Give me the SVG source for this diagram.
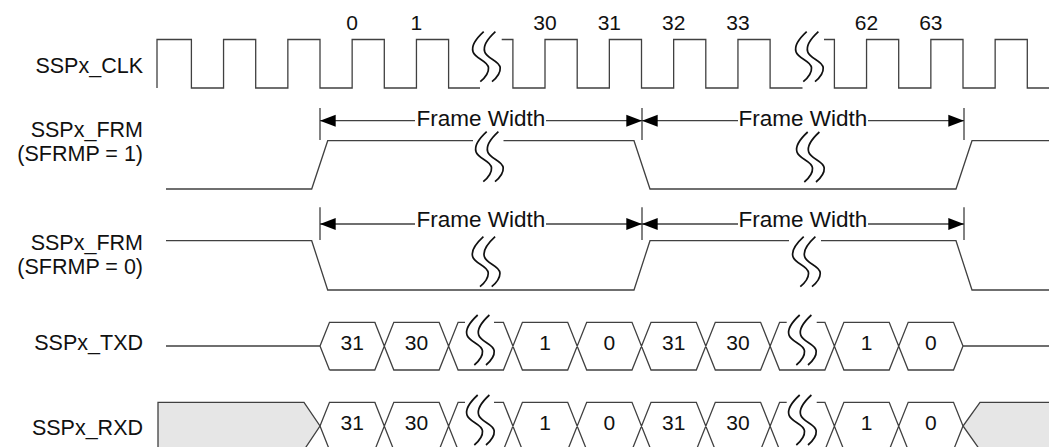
<svg xmlns="http://www.w3.org/2000/svg" xmlns:xlink="http://www.w3.org/1999/xlink" width="1049" height="447" viewBox="0 0 1049 447">
<style>
.sig{fill:none;stroke:#404040;stroke-width:1.3}
.sq{fill:none;stroke:#111;stroke-width:1.7}
.lbl{font-family:"Liberation Sans",Arial,sans-serif;font-size:21.5px;fill:#111;text-anchor:end}
.num{font-family:"Liberation Sans",Arial,sans-serif;font-size:21px;fill:#111;text-anchor:middle}
.fw{font-family:"Liberation Sans",Arial,sans-serif;font-size:22.5px;fill:#111;text-anchor:middle}
.ah{fill:#000}
.gray{fill:#e6e6e6;stroke:#404040;stroke-width:1.3}
</style>
<defs>
<path id="s" d="M11.7,0 C3,8 -1,14 1,20 C3,27 16,29 16.5,36 C17,42 13,46 8.3,50"/>
<g id="brk" class="sq"><use xlink:href="#s"/><use xlink:href="#s" x="11.7"/></g>
<path id="al" d="M0,0 L15.7,-6 L15.7,6 Z"/>
<path id="ar" d="M0,0 L-15.7,-6 L-15.7,6 Z"/>
</defs>

<g id="labels">
<text class="lbl" x="143" y="72.7">SSPx_CLK</text>
<text class="lbl" x="143" y="136.5">SSPx_FRM</text>
<text class="lbl" x="143" y="160.5">(SFRMP = 1)</text>
<text class="lbl" x="143" y="250">SSPx_FRM</text>
<text class="lbl" x="143" y="274">(SFRMP = 0)</text>
<text class="lbl" x="143" y="350">SSPx_TXD</text>
<text class="lbl" x="143" y="435">SSPx_RXD</text>
</g>

<g id="clk">
<path class="sig" d="M157,88 V39.5 H191.4 V88 H223.55 V39.5 H255.7 V88 H287.85 V39.5 H320 V88 H352.15 V39.5 H384.3 V88 H416.45 V39.5 H448.6 V88 H480 M501.7,39.5 H512.9 V88 H545 V39.5 H577.2 V88 H609.35 V39.5 H641.5 V88 H673.65 V39.5 H705.8 V88 H737.95 V39.5 H770.1 V88 H802.5 M824,39.5 H834.4 V88 H866.55 V39.5 H898.7 V88 H930.85 V39.5 H963 V88 H995.15 V39.5 H1027.3 V88 H1049"/>
<use xlink:href="#brk" x="472" y="31.7"/>
<use xlink:href="#brk" x="795" y="31.7"/>
<text class="num" x="352.15" y="30">0</text>
<text class="num" x="416.45" y="30">1</text>
<text class="num" x="545" y="30">30</text>
<text class="num" x="609.35" y="30">31</text>
<text class="num" x="673.65" y="30">32</text>
<text class="num" x="737.95" y="30">33</text>
<text class="num" x="866.55" y="30">62</text>
<text class="num" x="930.85" y="30">63</text>
</g>

<g id="frm1">
<path class="sig" d="M166,189 H311.7 L327.7,140.7 H473 M503.5,140.7 H634 L650,189 H956 L972,140.7 H1049"/>
<use xlink:href="#brk" x="475" y="131.7"/>
<use xlink:href="#brk" x="796" y="132"/>
</g>

<g id="frm0">
<path class="sig" d="M166,240.7 H311.7 L327.7,290 H634 L650,240.7 H789 M821,240.7 H956 L972,290 H1049"/>
<use xlink:href="#brk" x="471.7" y="236.7"/>
<use xlink:href="#brk" x="792" y="236.7"/>
</g>

<g id="connectors">
<g class="sig">
<path d="M320,108 V140 M642,108 V140 M964,108 V140 M320,207.3 V240 M642,207.3 V240 M964,207.3 V240"/>
<path d="M320,120.7 H415 M546,120.7 H642 M642,120.7 H738 M868,120.7 H964"/>
<path d="M320,224 H415 M546,224 H642 M642,224 H738 M868,224 H964"/>
</g>
<g class="ah">
<use xlink:href="#al" x="320" y="120.7"/><use xlink:href="#ar" x="642" y="120.7"/>
<use xlink:href="#al" x="642" y="120.7"/><use xlink:href="#ar" x="964" y="120.7"/>
<use xlink:href="#al" x="320" y="224"/><use xlink:href="#ar" x="642" y="224"/>
<use xlink:href="#al" x="642" y="224"/><use xlink:href="#ar" x="964" y="224"/>
</g>
<text class="fw" x="481" y="126">Frame Width</text>
<text class="fw" x="803" y="126">Frame Width</text>
<text class="fw" x="481" y="226.7">Frame Width</text>
<text class="fw" x="803" y="226.7">Frame Width</text>
</g>

<g id="txd">
<path class="sig" d="M166,346 H320 L329.5,322.3 H374.8 L393.8,370 M329.5,370 L320,346 M329.5,370 H374.8 L393.8,322.3 H439.1 L458.1,370 H503.4 L522.4,322.3 H567.7 L586.7,370 H632 L651,322.3 H696.3 L715.3,370 H760.6 L779.6,322.3 H786.7 M816.7,322.3 H824.9 L843.9,370 H889.2 L908.2,322.3 H953.5 L963,346 L953.5,370 H908.2 L889.2,322.3 H843.9 L824.9,370 H779.6 L760.6,322.3 H715.3 L696.3,370 H651 L632,322.3 H586.7 L567.7,370 H522.4 L503.4,322.3 H494 M465,322.3 H458.1 L439.1,370 H393.8 L374.8,322.3 M963,346 H1049"/>
<use xlink:href="#brk" x="466" y="315" />
<use xlink:href="#brk" x="788" y="315" />
<text class="num" x="352.15" y="350">31</text>
<text class="num" x="416.45" y="350">30</text>
<text class="num" x="545" y="350">1</text>
<text class="num" x="609.35" y="350">0</text>
<text class="num" x="673.65" y="350">31</text>
<text class="num" x="737.95" y="350">30</text>
<text class="num" x="866.55" y="350">1</text>
<text class="num" x="930.85" y="350">0</text>
</g>

<g id="rxd">
<path class="gray" d="M158,460 V402.3 H304 L320,426 L304,450 L300,460"/>
<path class="gray" d="M1060,402.3 H980 L963,426 L980,450 L984,460 H1060"/>
<path class="sig" d="M320,426 L329.5,402.3 H374.8 L393.8,450 M329.5,450 L320,426 M329.5,450 H374.8 L393.8,402.3 H439.1 L458.1,450 H503.4 L522.4,402.3 H567.7 L586.7,450 H632 L651,402.3 H696.3 L715.3,450 H760.6 L779.6,402.3 H786.7 M816.7,402.3 H824.9 L843.9,450 H889.2 L908.2,402.3 H953.5 L963,426 L953.5,450 H908.2 L889.2,402.3 H843.9 L824.9,450 H779.6 L760.6,402.3 H715.3 L696.3,450 H651 L632,402.3 H586.7 L567.7,450 H522.4 L503.4,402.3 H494 M465,402.3 H458.1 L439.1,450 H393.8 L374.8,402.3"/>
<use xlink:href="#brk" x="466" y="395" />
<use xlink:href="#brk" x="788" y="395" />
<text class="num" x="352.15" y="430">31</text>
<text class="num" x="416.45" y="430">30</text>
<text class="num" x="545" y="430">1</text>
<text class="num" x="609.35" y="430">0</text>
<text class="num" x="673.65" y="430">31</text>
<text class="num" x="737.95" y="430">30</text>
<text class="num" x="866.55" y="430">1</text>
<text class="num" x="930.85" y="430">0</text>
</g>
</svg>
